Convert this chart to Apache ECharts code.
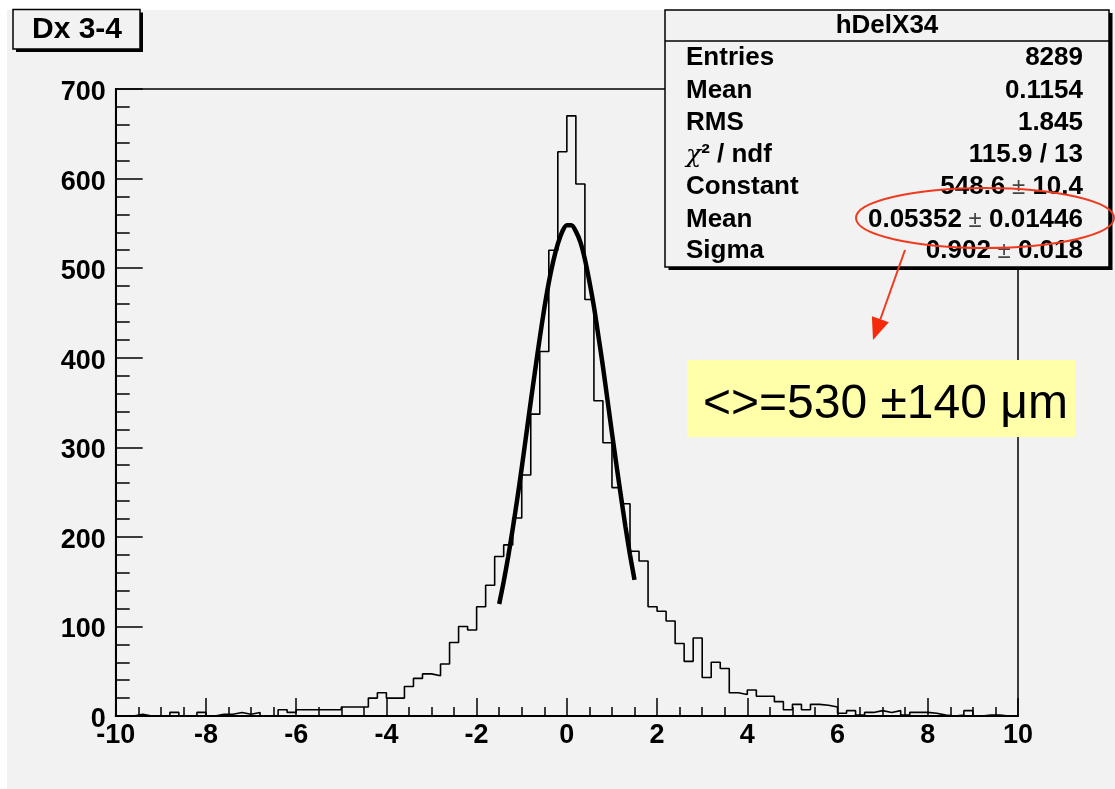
<!DOCTYPE html>
<html><head><meta charset="utf-8">
<script src="https://cdn.jsdelivr.net/npm/echarts@6/dist/echarts.min.js"></script>
<style>html,body{margin:0;padding:0;background:#fff}#c{width:1115px;height:789px}</style>
</head><body><div id="c"></div>
<script>
// ---- data ----
const binStart = -10;
const binWidth = 0.2;
const binCounts = [
  0, 0, 2, 0, 0, 0, 4, 0, 0, 4,
  0, 2, 2, 4, 2, 4, 0, 0, 7, 4,
  7, 7, 7, 7, 7, 10, 10, 10, 20, 26,
  20, 20, 33, 42, 47, 45, 58, 82, 100, 96,
  122, 146, 178, 191, 221, 269, 337, 407, 520, 630,
  670, 594, 465, 352, 305, 255, 237, 184, 173, 122,
  117, 106, 81, 61, 87, 43, 60, 53, 26, 24,
  29, 22, 22, 16, 7, 13, 7, 13, 12, 10,
  3, 6, 1, 4, 6, 4, 6, 1, 4, 4,
  3, 1, 0, 1, 6, 0, 1, 1, 0, 0
];
const fitX = [-1.5,-1.4,-1.3,-1.2,-1.1,-1.0,-0.9,-0.8,-0.7,-0.6,-0.5,-0.4,-0.3,-0.2,-0.1,0.0,
              0.1,0.2,0.3,0.4,0.5,0.6,0.7,0.8,0.9,1.0,1.1,1.2,1.3,1.4,1.5];
const fitY = [125,150,178,209,242,277,314,351,387,422,455,484,508,527,541,548,
              548,541,529,510,485,457,424,390,353,316,280,245,211,180,152];
const xTicks = [-10,-8,-6,-4,-2,0,2,4,6,8,10];
const yTicks = [0,100,200,300,400,500,600,700];
const statsTitle = 'hDelX34';
const statsLabels = ['Entries','Mean','RMS','χ² / ndf','Constant','Mean','Sigma'];
const statsValues = ['8289','0.1154','1.845','115.9 / 13','548.6 ± 10.4','0.05352 ± 0.01446','0.902 ± 0.018'];
const histTitle = 'Dx 3-4';
const noteText = '<>=530 ±140 μm';

// ---- build ----
const stepData = binCounts.map((c, i) => [binStart + i * binWidth, c]);
stepData.push([binStart + binCounts.length * binWidth, binCounts[binCounts.length - 1]]);
const fitData = fitX.map((x, i) => [x, fitY[i]]);

const F = 'Liberation Sans, Arial, Helvetica, sans-serif';
const labelStyle = {fontFamily: F, fontWeight: 'bold', fontSize: 27, color: '#000'};

const rowY = [58, 90.5, 123, 155, 187, 220, 251];
const statEls = [];
statsLabels.forEach((t, i) => {
  let txt = '{b|' + t + '}';
  if (t.indexOf('χ') === 0) { txt = '{c|χ}{b|' + t.slice(1) + '}'; }
  statEls.push({type: 'text', z: 101, style: {
    x: 686, y: rowY[i], text: txt, fill: '#000', align: 'left', verticalAlign: 'middle',
    font: 'bold 26px ' + F,
    rich: {c: {fontFamily: 'DejaVu Serif', fontStyle: 'italic', fontWeight: 'normal', fontSize: 25, fill: '#000'},
           b: {fontFamily: F, fontWeight: 'bold', fontSize: 26, fill: '#000'}}
  }});
});
statsValues.forEach((v, i) => {
  let txt = '{b|' + v + '}';
  if (v.indexOf('±') >= 0) {
    const p = v.split(' ± ');
    txt = '{b|' + p[0] + '}{p| ±}{b| ' + p[1] + '}';
  }
  statEls.push({type: 'text', z: 101, style: {
    x: 1083, y: rowY[i], text: txt, fill: '#000', align: 'right', verticalAlign: 'middle',
    font: 'bold 26px ' + F,
    rich: {b: {fontFamily: F, fontWeight: 'bold', fontSize: 26, fill: '#000'},
           p: {fontFamily: F, fontWeight: 'normal', fontSize: 24, fill: '#444'}}
  }});
});

// arrow geometry
const tip = [873, 340], tail = [905, 250];
const dx = tip[0] - tail[0], dy = tip[1] - tail[1];
const L = Math.hypot(dx, dy), ux = dx / L, uy = dy / L;
const hl = 22, hw = 9;
const bx = tip[0] - ux * hl, by = tip[1] - uy * hl;

const chart = echarts.init(document.getElementById('c'), null, {renderer: 'canvas'});
chart.setOption({
  backgroundColor: '#f2f2f2',
  animation: false,
  grid: {left: 115.7, right: 97, top: 89, bottom: 73, show: true, borderColor: '#000', borderWidth: 1.5, backgroundColor: 'transparent'},
  xAxis: {
    type: 'value', min: -10, max: 10, interval: 2,
    axisLine: {show: true, onZero: false, lineStyle: {color: '#000', width: 2}},
    axisTick: {show: true, inside: true, length: 18, lineStyle: {color: '#000', width: 1.5}},
    minorTick: {show: true, splitNumber: 4, length: 9, lineStyle: {color: '#000', width: 1.5}},
    splitLine: {show: false},
    axisLabel: Object.assign({margin: 6, formatter: v => xTicks.indexOf(v) >= 0 ? String(v) : ''}, labelStyle)
  },
  yAxis: {
    type: 'value', min: 0, max: 700, interval: 100,
    axisLine: {show: true, onZero: false, lineStyle: {color: '#000', width: 2}},
    axisTick: {show: true, inside: true, length: 27, lineStyle: {color: '#000', width: 1.5}},
    minorTick: {show: true, splitNumber: 5, length: 14, lineStyle: {color: '#000', width: 1.5}},
    splitLine: {show: false},
    axisLabel: Object.assign({margin: 10, verticalAlign: 'top', lineHeight: 27, padding: [-10, 0, 0, 0], formatter: v => yTicks.indexOf(v) >= 0 ? String(v) : ''}, labelStyle)
  },
  series: [
    {type: 'line', data: stepData, step: 'end', symbol: 'none', z: 3,
     lineStyle: {color: '#000', width: 1.6}},
    {type: 'line', data: fitData, smooth: 0.3, symbol: 'none', z: 4,
     lineStyle: {color: '#000', width: 4.5}}
  ],
  graphic: [
    // white page margins
    {type: 'rect', z: 100, shape: {x: 0, y: 0, width: 1115, height: 10}, style: {fill: '#fff'}},
    {type: 'rect', z: 100, shape: {x: 0, y: 0, width: 7, height: 789}, style: {fill: '#fff'}},
    // title box
    {type: 'rect', z: 100, shape: {x: 16, y: 12.5, width: 127, height: 39.5}, style: {fill: '#000'}},
    {type: 'rect', z: 101, shape: {x: 13, y: 9.5, width: 127, height: 39.5}, style: {fill: '#f2f2f2', stroke: '#000', lineWidth: 1.5}},
    {type: 'text', z: 102, style: {x: 77, y: 30, text: histTitle, font: 'bold 30px ' + F, fill: '#000', align: 'center', verticalAlign: 'middle'}},
    // stats box
    {type: 'rect', z: 100, shape: {x: 668.5, y: 13, width: 444, height: 257}, style: {fill: '#000'}},
    {type: 'rect', z: 100.5, shape: {x: 665, y: 10, width: 444, height: 257}, style: {fill: '#f2f2f2', stroke: '#000', lineWidth: 1.5}},
    {type: 'line', z: 101, shape: {x1: 665, y1: 41, x2: 1109, y2: 41}, style: {stroke: '#000', lineWidth: 1.5}},
    {type: 'text', z: 101, style: {x: 887, y: 26, text: statsTitle, font: 'bold 26px ' + F, fill: '#000', align: 'center', verticalAlign: 'middle'}},
    ...statEls,
    // red ellipse and arrow
    {type: 'ellipse', z: 105, shape: {cx: 985, cy: 218, rx: 129, ry: 30}, style: {fill: 'none', stroke: '#f03a1e', lineWidth: 2}},
    {type: 'line', z: 105, shape: {x1: tail[0], y1: tail[1], x2: bx, y2: by}, style: {stroke: '#f03a1e', lineWidth: 2}},
    {type: 'polygon', z: 105, shape: {points: [tip, [bx - uy * hw, by + ux * hw], [bx + uy * hw, by - ux * hw]]}, style: {fill: '#f52a0a'}},
    // yellow note
    {type: 'rect', z: 105, shape: {x: 687, y: 360, width: 388, height: 77}, style: {fill: '#ffffaa'}},
    {type: 'text', z: 106, style: {x: 703, y: 405, text: noteText, font: 'normal 48px ' + F, fill: '#000', align: 'left', verticalAlign: 'middle'}}
  ]
});
</script></body></html>
